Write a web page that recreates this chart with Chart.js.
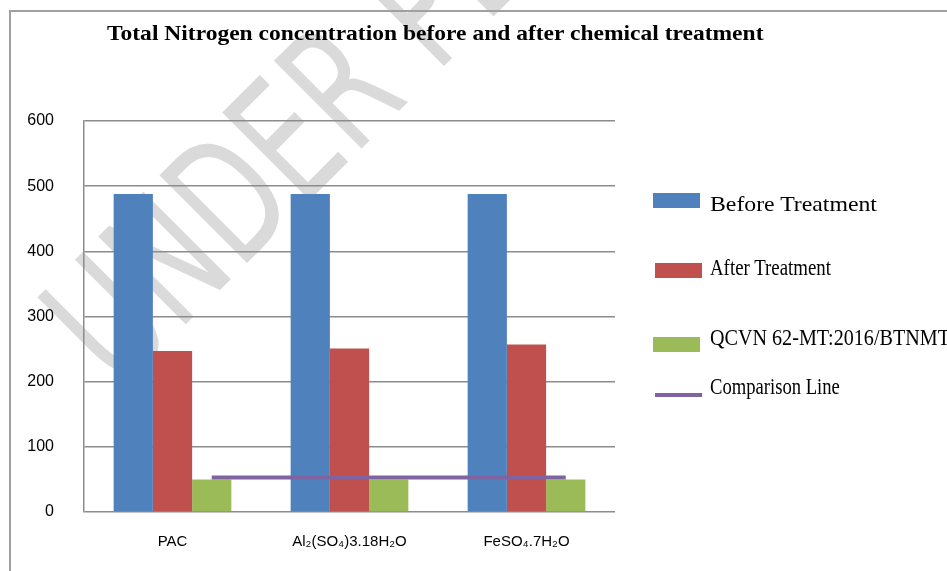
<!DOCTYPE html>
<html>
<head>
<meta charset="utf-8">
<script src="https://cdn.jsdelivr.net/npm/chart.js@4.4.0/dist/chart.umd.min.js"></script>
<style>
  body { margin: 0; background: #fff; }
  #wrap { position: relative; width: 947px; height: 571px; overflow: hidden; background: #fff; }
  #frame { position: absolute; left: 9px; top: 10px; width: 1000px; height: 600px;
           border-left: 2px solid #a0a0a0; border-top: 2px solid #a0a0a0; }
  #mark { position: absolute; left: 0; top: 0; }
  #chart { position: absolute; left: 0; top: 0; }
  #title { position: absolute; left: 107px; top: 21px; white-space: nowrap; line-height: 1;
           font: bold 21px 'Liberation Serif', serif; color: #000;
           transform: scaleX(1.12); transform-origin: left center; }
  .sw { position: absolute; width: 47px; }
  .txt { position: absolute; white-space: nowrap; line-height: 1; font-family: 'Liberation Serif', serif;
         color: #000; transform-origin: left center; }
</style>
</head>
<body>
<div id="wrap">
  <svg id="mark" width="947" height="571">
    <text x="0" y="0" transform="translate(118,392) rotate(-45)" fill="#dadada"
          font-family="'Liberation Sans Narrow', 'DejaVu Sans Condensed', sans-serif"
          font-size="170" textLength="1236" lengthAdjust="spacingAndGlyphs">UNDER PEER REVIEW</text>
  </svg>
  <div id="frame"></div>
  <canvas id="chart" width="947" height="571"></canvas>
  <div id="title">Total Nitrogen concentration before and after chemical treatment</div>
  <div id="legend"></div>
</div>
<script>
document.addEventListener('DOMContentLoaded', function () {

    const categories = ['PAC', 'Al\u2082(SO\u2084)3.18H\u2082O', 'FeSO\u2084.7H\u2082O'];
    const before_treatment = [488, 488, 488];
    const after_treatment = [247, 251, 257];
    const qcvn_limit = [50, 50, 50];
    const comparison_line = [53, 53, 53];
    const y_ticks = [0, 100, 200, 300, 400, 500, 600];

    const catPct = 0.665;

    const data_chart = {
        labels: categories,
        datasets: [{
            label: 'Before Treatment',
            data: before_treatment,
            backgroundColor: '#4F81BD',
            barPercentage: 1,
            categoryPercentage: catPct,
            order: 1
        }, {
            label: 'After Treatment',
            data: after_treatment,
            backgroundColor: '#C0504D',
            barPercentage: 1,
            categoryPercentage: catPct,
            order: 1
        }, {
            label: 'QCVN 62-MT:2016/BTNMT',
            data: qcvn_limit,
            backgroundColor: '#9BBB59',
            barPercentage: 1,
            categoryPercentage: catPct,
            order: 1
        }, {
            type: 'line',
            label: 'Comparison Line',
            data: comparison_line,
            borderColor: '#8064A2',
            borderWidth: 4,
            pointRadius: 0,
            fill: false,
            order: 0
        }]
    };

    // the comparison line runs through the centre of the green bars,
    // so move it right by one bar width while it is drawn
    const shift_line = {
        id: 'shift_line',
        beforeDatasetDraw: function (chart, args) {
            if (args.meta.type !== 'line') return;
            var bar = chart.getDatasetMeta(2).data[0];
            chart.ctx.save();
            chart.ctx.translate(bar.width, 0);
        },
        afterDatasetDraw: function (chart, args) {
            if (args.meta.type === 'line') chart.ctx.restore();
        }
    };

    const config_chart = {
        type: 'bar',
        data: data_chart,
        plugins: [shift_line],
        options: {
            responsive: false,
            animation: false,
            layout: { padding: { top: 121, right: 332, left: 0, bottom: 0 } },
            plugins: { legend: { display: false }, title: { display: false }, tooltip: { enabled: false } },
            scales: {
                x: {
                    offset: true,
                    grid: { display: false, drawTicks: false },
                    border: { display: false },
                    ticks: { color: '#000', padding: 21, font: { family: "'Liberation Sans', Arial", size: 15 } },
                    afterFit: function (s) { s.height = 59; }
                },
                y: {
                    min: 0,
                    max: 600,
                    afterBuildTicks: function (s) { s.ticks = y_ticks.map(function (v) { return { value: v }; }); },
                    grid: { color: '#8c8c8c', lineWidth: 1.5, drawTicks: false },
                    border: { color: '#8c8c8c', width: 1.5 },
                    ticks: { color: '#000', padding: 30, font: { family: "'Liberation Sans', Arial", size: 16 } },
                    afterFit: function (s) { s.width = 84; }
                }
            }
        }
    };

    var ctx = document.getElementById('chart').getContext('2d');
    var chart = new Chart(ctx, config_chart);

    // legend on the right, built from the datasets
    const sw_pos = [[653, 193], [655, 263], [653, 337], [655, 393]];
    const txt_top = [192.5, 255.7, 325.7, 374.7];
    const txt_size = [22, 23, 23, 23];
    const txt_scale = [1.08, 0.82, 0.875, 0.81];
    var box = document.getElementById('legend');
    data_chart.datasets.forEach(function (ds, i) {
        var sw = document.createElement('div');
        sw.className = 'sw';
        sw.style.left = sw_pos[i][0] + 'px';
        sw.style.top = sw_pos[i][1] + 'px';
        if (ds.type === 'line') {
            sw.style.height = '4px';
            sw.style.background = ds.borderColor;
        } else {
            sw.style.height = '15px';
            sw.style.background = ds.backgroundColor;
        }
        var t = document.createElement('div');
        t.className = 'txt';
        t.textContent = ds.label;
        t.style.left = '710px';
        t.style.top = txt_top[i] + 'px';
        t.style.fontSize = txt_size[i] + 'px';
        t.style.transform = 'scaleX(' + txt_scale[i] + ')';
        box.appendChild(sw);
        box.appendChild(t);
    });
});
</script>
</body>
</html>
